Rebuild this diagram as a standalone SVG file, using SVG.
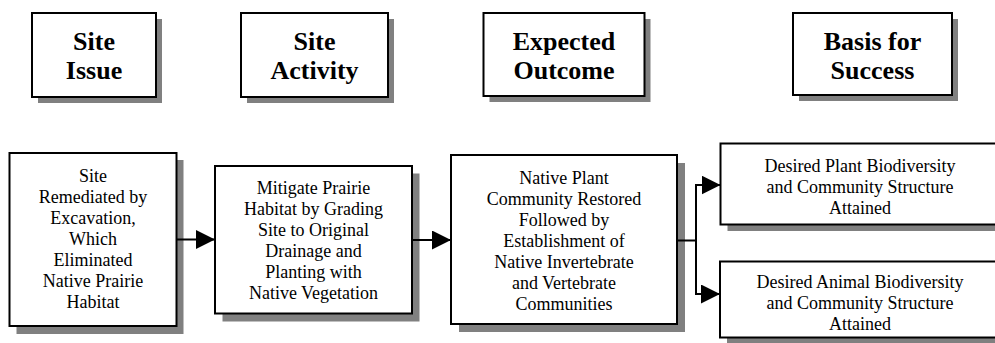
<svg xmlns="http://www.w3.org/2000/svg" width="995" height="343" viewBox="0 0 995 343">
<style>
.box{fill:#fff;stroke:#000;stroke-width:2}
.shadow{fill:#808080}
.hd{font-size:26px;font-weight:bold;text-anchor:middle;fill:#000}
.tx{font-size:18px;text-anchor:middle;fill:#000}
.ln{fill:none;stroke:#000;stroke-width:2}
</style>
<defs>
<marker id="ah" viewBox="0 0 19 19" refX="19" refY="9.5" markerWidth="19" markerHeight="19" markerUnits="userSpaceOnUse" orient="auto">
<path d="M0,0 L19,9.5 L0,19 z" fill="#000"/>
</marker>
</defs>
<rect width="995" height="343" fill="#fff"/>
<g id="h-issue">
<rect class="shadow" x="38" y="19" width="124" height="84"/>
<rect class="box" x="32" y="13" width="124" height="84"/>
<text class="hd" font-family="Liberation Serif, DejaVu Serif, serif" x="94" y="50">Site</text>
<text class="hd" font-family="Liberation Serif, DejaVu Serif, serif" x="94" y="79">Issue</text>
</g>
<g id="h-activity">
<rect class="shadow" x="247" y="19" width="147" height="84"/>
<rect class="box" x="241" y="13" width="147" height="84"/>
<text class="hd" font-family="Liberation Serif, DejaVu Serif, serif" x="314.5" y="50">Site</text>
<text class="hd" font-family="Liberation Serif, DejaVu Serif, serif" x="314.5" y="79">Activity</text>
</g>
<g id="h-outcome">
<rect class="shadow" x="489.5" y="19" width="161" height="83"/>
<rect class="box" x="483.5" y="13" width="161" height="83"/>
<text class="hd" font-family="Liberation Serif, DejaVu Serif, serif" x="564" y="50">Expected</text>
<text class="hd" font-family="Liberation Serif, DejaVu Serif, serif" x="564" y="79">Outcome</text>
</g>
<g id="h-basis">
<rect class="shadow" x="799" y="19" width="159" height="82"/>
<rect class="box" x="793" y="13" width="159" height="82"/>
<text class="hd" font-family="Liberation Serif, DejaVu Serif, serif" x="872.5" y="50">Basis for</text>
<text class="hd" font-family="Liberation Serif, DejaVu Serif, serif" x="872.5" y="79">Success</text>
</g>
<g id="n-issue" font-family="Liberation Serif, DejaVu Serif, serif">
<rect class="shadow" x="16.5" y="160" width="167" height="174"/>
<rect class="box" x="9.5" y="153" width="167" height="173"/>
<text class="tx" x="93" y="182">Site</text>
<text class="tx" x="93" y="203">Remediated by</text>
<text class="tx" x="93" y="224">Excavation,</text>
<text class="tx" x="93" y="245">Which</text>
<text class="tx" x="93" y="266">Eliminated</text>
<text class="tx" x="93" y="287">Native Prairie</text>
<text class="tx" x="93" y="308">Habitat</text>
</g>
<g id="n-activity" font-family="Liberation Serif, DejaVu Serif, serif">
<rect class="shadow" x="222.5" y="173.5" width="197" height="148"/>
<rect class="box" x="215" y="166" width="197" height="147.5"/>
<text class="tx" x="313.5" y="194">Mitigate Prairie</text>
<text class="tx" x="313.5" y="215">Habitat by Grading</text>
<text class="tx" x="313.5" y="236">Site to Original</text>
<text class="tx" x="313.5" y="257">Drainage and</text>
<text class="tx" x="313.5" y="278">Planting with</text>
<text class="tx" x="313.5" y="299">Native Vegetation</text>
</g>
<g id="n-outcome" font-family="Liberation Serif, DejaVu Serif, serif">
<rect class="shadow" x="459" y="163" width="226" height="169"/>
<rect class="box" x="451" y="155" width="226" height="169"/>
<text class="tx" x="564" y="184">Native Plant</text>
<text class="tx" x="564" y="205">Community Restored</text>
<text class="tx" x="564" y="226">Followed by</text>
<text class="tx" x="564" y="247">Establishment of</text>
<text class="tx" x="564" y="268">Native Invertebrate</text>
<text class="tx" x="564" y="289">and Vertebrate</text>
<text class="tx" x="564" y="310">Communities</text>
</g>
<g id="n-plant" font-family="Liberation Serif, DejaVu Serif, serif">
<rect class="shadow" x="727.5" y="150" width="280" height="81"/>
<rect class="box" x="720.5" y="143.5" width="280" height="81"/>
<text class="tx" x="860" y="172">Desired Plant Biodiversity</text>
<text class="tx" x="860" y="193">and Community Structure</text>
<text class="tx" x="860" y="214">Attained</text>
</g>
<g id="n-animal" font-family="Liberation Serif, DejaVu Serif, serif">
<rect class="shadow" x="727" y="268.5" width="280" height="76"/>
<rect class="box" x="720" y="261.5" width="280" height="76"/>
<text class="tx" x="860" y="288">Desired Animal Biodiversity</text>
<text class="tx" x="860" y="309">and Community Structure</text>
<text class="tx" x="860" y="330">Attained</text>
</g>
<g id="connectors">
<path class="ln" d="M177,239.5 H215" marker-end="url(#ah)"/>
<path class="ln" d="M412,240 H451" marker-end="url(#ah)"/>
<path class="ln" d="M677,240.5 H696"/>
<path class="ln" d="M696,185 V294"/>
<path class="ln" d="M695,185 H720.5" marker-end="url(#ah)"/>
<path class="ln" d="M695,294 H720" marker-end="url(#ah)"/>
</g>
</svg>
